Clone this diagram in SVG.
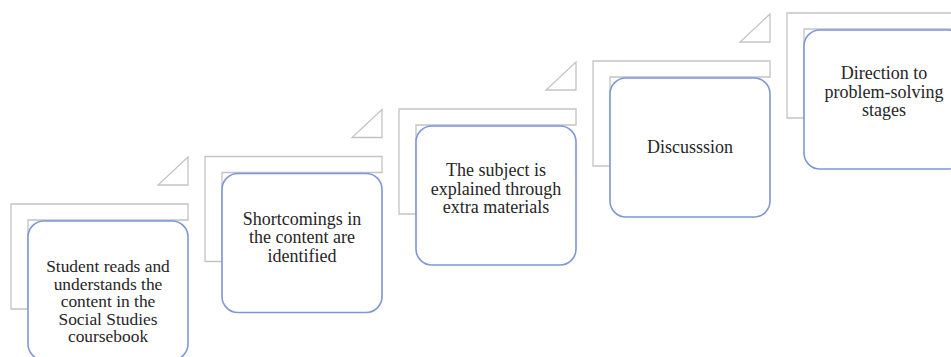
<svg xmlns="http://www.w3.org/2000/svg" width="951" height="357" viewBox="0 0 951 357">
<style>
.frame{fill:#ffffff;stroke:#c4c4c4;stroke-width:1.3}
.tri{fill:#ffffff;stroke:#c4c4c4;stroke-width:1.3}
.box{fill:#ffffff;stroke:#7f97d6;stroke-width:1.6}
.lbl{font-family:"Liberation Serif","Times New Roman",serif;font-size:18px;fill:#262626;text-anchor:middle}
.sm{font-size:17.4px}
</style>
<rect width="951" height="357" fill="#ffffff"/>
<g id="connectors">
<polygon class="tri" points="158,185 188,185 188,157"/>
<polygon class="tri" points="352,137.5 382,137.5 382,109.5"/>
<polygon class="tri" points="546,90 576,90 576,62"/>
<polygon class="tri" points="740,42 770,42 770,14"/>
</g>
<g id="step1">
<path class="frame" d="M11,204 H188 V220 H28 V309 H11 Z"/>
<rect class="box" x="28" y="221" width="160" height="139" rx="16"/>
<text class="lbl sm"><tspan x="108" y="272">Student reads and</tspan><tspan x="108" y="289.5">understands the</tspan><tspan x="108" y="307">content in the</tspan><tspan x="108" y="324.5">Social Studies</tspan><tspan x="108" y="342">coursebook</tspan></text>
</g>
<g id="step2">
<path class="frame" d="M205,156.5 H382 V172.5 H222 V261.5 H205 Z"/>
<rect class="box" x="222" y="173.5" width="160" height="139" rx="16"/>
<text class="lbl"><tspan x="302" y="225">Shortcomings in</tspan><tspan x="302" y="243.3">the content are</tspan><tspan x="302" y="261.6">identified</tspan></text>
</g>
<g id="step3">
<path class="frame" d="M399,109 H576 V125 H416 V214 H399 Z"/>
<rect class="box" x="416" y="126" width="160" height="139" rx="16"/>
<text class="lbl"><tspan x="496" y="176">The subject is</tspan><tspan x="496" y="194.5">explained through</tspan><tspan x="496" y="213">extra materials</tspan></text>
</g>
<g id="step4">
<path class="frame" d="M593,61 H770 V77 H610 V166 H593 Z"/>
<rect class="box" x="610" y="78" width="160" height="139" rx="16"/>
<text class="lbl" x="690" y="153">Discusssion</text>
</g>
<g id="step5">
<path class="frame" d="M787,13 H964 V29 H804 V118 H787 Z"/>
<rect class="box" x="804" y="30" width="160" height="139" rx="16"/>
<text class="lbl"><tspan x="884" y="79.3">Direction to</tspan><tspan x="884" y="97.5">problem-solving</tspan><tspan x="884" y="115.7">stages</tspan></text>
</g>
</svg>
